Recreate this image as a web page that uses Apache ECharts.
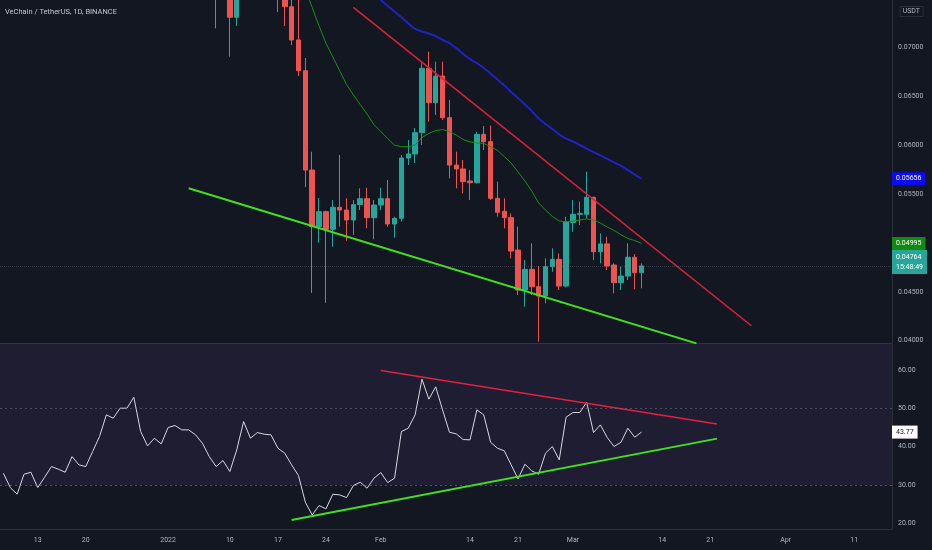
<!DOCTYPE html>
<html>
<head>
<meta charset="utf-8">
<script src="https://cdn.jsdelivr.net/npm/echarts@6/dist/echarts.min.js"></script>
<style>
html,body{margin:0;padding:0;background:#131722;}
#chart{width:932px;height:550px;}
</style>
</head>
<body>
<div id="chart"></div>
<script>
// ---------- data ----------
const firstDay = '2021-12-08';
const lastDay = '2022-04-16';

const tickDates = ['2021-12-13','2021-12-20','2022-01-01','2022-01-10','2022-01-17','2022-01-24','2022-02-01','2022-02-14','2022-02-21','2022-03-01','2022-03-14','2022-03-21','2022-04-01','2022-04-11'];
const tickLabels = ['13','20','2022','10','17','24','Feb','14','21','Mar','14','21','Apr','11'];

const priceTicks = [0.04, 0.045, 0.05, 0.055, 0.06, 0.065, 0.07];
const rsiTicks = [20, 30, 40, 50, 60];

// daily candles [open, close, low, high] from 2022-01-08 ('-' = above the visible range)
const candleStart = '2022-01-08';
const candles = [
  [0.0785, 0.0770, 0.07194, 0.0800],
  '-',
  [0.0770, 0.07307, 0.06904, 0.0782],
  [0.07307, 0.0775, 0.07218, 0.0790],
  '-', '-', '-', '-', '-',
  [0.0800, 0.0775, 0.07361, 0.0812],
  [0.0775, 0.07415, 0.07218, 0.0780],
  [0.07415, 0.07075, 0.07023, 0.0750],
  [0.07075, 0.06761, 0.06706, 0.0752],
  [0.06761, 0.05745, 0.05571, 0.06891],
  [0.05745, 0.05166, 0.04488, 0.05933],
  [0.05166, 0.05319, 0.05002, 0.05459],
  [0.05319, 0.05139, 0.04388, 0.05330],
  [0.05139, 0.05364, 0.04961, 0.05439],
  [0.05364, 0.05336, 0.05166, 0.05899],
  [0.05336, 0.05234, 0.05022, 0.05456],
  [0.05234, 0.05391, 0.05081, 0.05439],
  [0.05391, 0.05452, 0.05336, 0.05558],
  [0.05452, 0.05258, 0.05149, 0.05564],
  [0.05258, 0.05387, 0.05037, 0.05439],
  [0.05387, 0.05452, 0.05336, 0.05564],
  [0.05452, 0.05193, 0.05166, 0.05643],
  [0.05193, 0.05251, 0.05053, 0.05268],
  [0.05251, 0.05868, 0.05217, 0.05899],
  [0.05868, 0.05909, 0.05796, 0.06052],
  [0.05909, 0.06127, 0.05817, 0.06175],
  [0.06127, 0.06785, 0.06001, 0.06836],
  [0.06785, 0.06433, 0.06239, 0.06955],
  [0.06433, 0.06706, 0.06308, 0.06853],
  [0.06706, 0.06280, 0.06257, 0.06853],
  [0.06280, 0.05796, 0.05660, 0.06461],
  [0.05796, 0.05756, 0.05558, 0.05933],
  [0.05756, 0.05626, 0.05507, 0.05848],
  [0.05633, 0.05615, 0.05439, 0.05745],
  [0.05615, 0.06110, 0.05609, 0.06137],
  [0.06110, 0.06035, 0.05950, 0.06195],
  [0.06035, 0.05456, 0.05439, 0.06200],
  [0.05456, 0.05313, 0.05268, 0.05626],
  [0.05323, 0.05258, 0.05149, 0.05456],
  [0.05258, 0.04917, 0.04842, 0.05302],
  [0.04927, 0.04518, 0.04467, 0.05166],
  [0.04518, 0.04730, 0.04348, 0.04825],
  [0.04730, 0.04552, 0.04467, 0.04996],
  [0.04552, 0.04457, 0.03990, 0.04764],
  [0.04457, 0.04757, 0.04382, 0.04842],
  [0.04757, 0.04832, 0.04705, 0.04945],
  [0.04832, 0.04559, 0.04518, 0.04893],
  [0.04559, 0.05217, 0.04546, 0.05268],
  [0.05207, 0.05292, 0.05114, 0.05439],
  [0.05292, 0.05302, 0.05183, 0.05421],
  [0.05292, 0.05466, 0.05251, 0.05728],
  [0.05466, 0.04910, 0.04825, 0.05472],
  [0.04910, 0.04990, 0.04791, 0.05098],
  [0.04990, 0.04764, 0.04723, 0.05063],
  [0.04774, 0.04593, 0.04484, 0.04791],
  [0.04593, 0.04661, 0.04518, 0.04757],
  [0.04661, 0.04853, 0.04620, 0.04996],
  [0.04853, 0.04695, 0.04525, 0.04886],
  [0.04695, 0.04764, 0.04536, 0.04791]
];

// moving averages
const maGreenStart = '2022-01-21';
const maGreen = [0.07597, 0.07407, 0.07218, 0.07042, 0.06901, 0.06761, 0.06620, 0.06514, 0.06415, 0.06317, 0.06210,
  0.06138, 0.06067, 0.05999, 0.05984, 0.05984, 0.06001, 0.06078, 0.06118, 0.06149, 0.06159, 0.06139, 0.06103, 0.06057, 0.06032,
  0.06023, 0.06017, 0.05984, 0.05947, 0.05882, 0.05817, 0.05725, 0.05633, 0.05530, 0.05408, 0.05336, 0.05270, 0.05224, 0.05217,
  0.05224, 0.05234, 0.05246, 0.05234, 0.05203, 0.05162, 0.05127, 0.05084, 0.05045, 0.05024, 0.04995];
const maBlueStart = '2022-01-31';
const maBlue = [0.07566,
  0.07484, 0.07422, 0.07366, 0.07307, 0.07243, 0.07187, 0.07161, 0.07141, 0.07115, 0.07075, 0.07044, 0.06993, 0.06931, 0.06880,
  0.06839, 0.06788, 0.06732, 0.06670, 0.06609, 0.06543, 0.06481, 0.06415, 0.06349, 0.06272, 0.06216, 0.06165, 0.06108, 0.06067,
  0.06037, 0.06001, 0.05965, 0.05929, 0.05896, 0.05860, 0.05824, 0.05790, 0.05745, 0.05699, 0.05656];

// RSI
const rsiStart = '2021-12-08';
const rsi = [33.04, 29.3, 27.57, 32.78, 33.3,
  29.3, 32.0, 34.78, 34.09, 33.3, 37.39, 35.22, 34.78, 38.7, 42.6,
  48.26, 47.39, 50.0, 50.0, 52.87, 43.91, 40.17, 42.17, 40.7, 44.96,
  45.48, 44.35, 44.35, 43.04, 40.87, 37.39, 34.78, 36.35, 33.48, 39.13,
  46.52, 42.17, 43.65, 43.22, 43.04, 39.57, 38.26, 35.22, 32.43, 25.48,
  22.17, 24.61, 23.74, 27.57, 27.39, 26.7, 29.83, 30.7, 29.13, 31.74,
  33.22, 30.61, 31.74, 43.91, 44.78, 48.26, 57.57, 52.35, 55.57, 49.57,
  43.74, 43.3, 41.83, 41.74, 49.57, 48.26, 41.13, 39.57, 38.87, 35.22,
  31.57, 35.39, 33.65, 32.78, 38.26, 40.0, 36.52, 47.65, 48.87, 48.87,
  51.57, 43.65, 45.65, 42.35, 40.0, 41.13, 44.78, 42.43, 43.77];

// drawn trend lines [date, value]
const trendRedPrice = [['2022-01-28', 0.07409], ['2022-03-27', 0.04153]];
const trendGreenPrice = [['2022-01-04', 0.05559], ['2022-03-19', 0.03973]];
const trendRedRsi = [['2022-02-01', 59.8], ['2022-03-22', 45.9]];
const trendGreenRsi = [['2022-01-19', 20.86], ['2022-03-22', 42.07]];

const lastPrice = 0.04764, lastTime = '15:48:49';
const lastGreenMa = 0.04995, lastBlueMa = 0.05656, lastRsi = 43.77;
const rsiBandLow = 30, rsiBandHigh = 70;

// ---------- helpers ----------
function dayList(a, b) {
  const out = [];
  let t = Date.parse(a + 'T00:00:00Z');
  const e = Date.parse(b + 'T00:00:00Z');
  while (t <= e) { out.push(new Date(t).toISOString().slice(0, 10)); t += 86400000; }
  return out;
}
const dates = dayList(firstDay, lastDay);
function align(start, arr, empty) {
  const i = dates.indexOf(start);
  const out = dates.map(() => empty);
  arr.forEach((v, k) => { out[i + k] = (v === '-') ? empty : v; });
  return out;
}

const priceMin = 0.039765, priceMax = 0.074836;
const rsiMin = 18.5, rsiMax = 67;

const font = 'Roboto, "Liberation Sans", sans-serif';
const txt = '#b2b5be';
const border = '#2a2e39';

const chart = echarts.init(document.getElementById('chart'), null, {renderer: 'canvas'});

const tagLabel = (bg, fg, text, extra) => Object.assign({
  show: true, position: 'end', distance: 0,
  formatter: text, backgroundColor: bg, color: fg,
  fontSize: 7, fontFamily: font, padding: [2, 4, 2, 4], lineHeight: 9
}, extra || {});

const hiddenLine = {color: 'rgba(0,0,0,0)', width: 0};

chart.setOption({
  animation: false,
  backgroundColor: '#131722',
  title: [
    {text: 'VeChain / TetherUS, 1D, BINANCE', left: 5, top: 8, padding: 0,
     textStyle: {color: '#c3c6ce', fontSize: 7.5, fontWeight: 'normal', fontFamily: font}},
    {text: 'USDT', right: 9, top: 6, padding: [2, 3, 2, 3], borderColor: border, borderWidth: 1,
     textStyle: {color: txt, fontSize: 7, fontWeight: 'normal', fontFamily: font}}
  ],
  grid: [
    {left: -2, right: 40, top: 0, height: 343},
    {left: -2, right: 40, top: 343, height: 186}
  ],
  xAxis: [
    {type: 'category', gridIndex: 0, data: dates, boundaryGap: true,
     axisLine: {show: true, lineStyle: {color: border}}, axisTick: {show: false},
     axisLabel: {show: false}, splitLine: {show: false}},
    {type: 'category', gridIndex: 1, data: dates, boundaryGap: true,
     axisLine: {show: true, lineStyle: {color: border}}, axisTick: {show: false},
     splitLine: {show: false},
     axisLabel: {
       interval: (i, v) => tickDates.includes(v),
       formatter: v => tickLabels[tickDates.indexOf(v)],
       color: txt, fontSize: 7, fontFamily: font, margin: 8
     }}
  ],
  yAxis: [
    {type: 'value', gridIndex: 0, position: 'right', min: priceMin, max: priceMax,
     axisLine: {show: true, lineStyle: {color: border}}, axisTick: {show: false}, splitLine: {show: false},
     axisLabel: {customValues: priceTicks, formatter: v => v.toFixed(5), color: txt, fontSize: 7, fontFamily: font, margin: 6}},
    {type: 'value', gridIndex: 1, position: 'right', min: rsiMin, max: rsiMax,
     axisLine: {show: true, lineStyle: {color: border}}, axisTick: {show: false}, splitLine: {show: false},
     axisLabel: {customValues: rsiTicks, formatter: v => v.toFixed(2), color: txt, fontSize: 7, fontFamily: font, margin: 6}}
  ],
  series: [
    {
      type: 'candlestick', xAxisIndex: 0, yAxisIndex: 0,
      data: align(candleStart, candles, ['-', '-', '-', '-']),
      barWidth: 5, clip: true,
      itemStyle: {color: '#26a69a', color0: '#ef5350', borderColor: '#26a69a', borderColor0: '#ef5350', borderWidth: 1}
    },
    {type: 'line', xAxisIndex: 0, yAxisIndex: 0, data: align(maGreenStart, maGreen, '-'),
     symbol: 'none', lineStyle: {color: '#1b8f1b', width: 1}, clip: true,
     markLine: {
       silent: true, symbol: ['none', 'none'], animation: false, precision: 6,
       data: [
         {yAxis: lastPrice,
          lineStyle: {color: 'rgba(120,123,134,0.35)', type: 'dotted', width: 1},
          label: tagLabel('#26a69a', '#ffffff', lastPrice.toFixed(5) + '\n' + lastTime, {lineHeight: 10, offset: [0, -4]})},
         {yAxis: lastGreenMa, lineStyle: hiddenLine, label: tagLabel('#118a11', '#ffffff', lastGreenMa.toFixed(5))}
       ]
     }},
    {type: 'line', xAxisIndex: 0, yAxisIndex: 0, data: align(maBlueStart, maBlue, '-'),
     symbol: 'none', lineStyle: {color: '#2121c4', width: 2}, clip: true,
     markLine: {
       silent: true, symbol: ['none', 'none'], animation: false, precision: 6,
       data: [
         {yAxis: lastBlueMa, lineStyle: hiddenLine, label: tagLabel('#0b0bf0', '#ffffff', lastBlueMa.toFixed(5))}
       ]
     }},
    {type: 'line', xAxisIndex: 0, yAxisIndex: 0, data: trendRedPrice,
     symbol: 'none', lineStyle: {color: '#e3203d', width: 1.5}, clip: true},
    {type: 'line', xAxisIndex: 0, yAxisIndex: 0, data: trendGreenPrice,
     symbol: 'none', lineStyle: {color: '#41e01f', width: 2}, clip: true},
    {
      type: 'line', xAxisIndex: 1, yAxisIndex: 1, data: align(rsiStart, rsi, '-'),
      symbol: 'none', lineStyle: {color: '#d6d8e0', width: 1}, clip: true,
      markArea: {
        silent: true,
        itemStyle: {color: 'rgba(126,87,194,0.10)'},
        data: [[{yAxis: rsiBandLow}, {yAxis: Math.min(rsiBandHigh, rsiMax)}]]
      },
      markLine: {
        silent: true, symbol: ['none', 'none'], animation: false, precision: 2,
        data: [
          {yAxis: 50, lineStyle: {color: 'rgba(120,123,134,0.5)', type: [2, 3], width: 1}, label: {show: false}},
          {yAxis: 30, lineStyle: {color: 'rgba(120,123,134,0.6)', type: [2, 3], width: 1}, label: {show: false}},
          {yAxis: lastRsi, lineStyle: hiddenLine, label: tagLabel('#ffffff', '#131722', lastRsi.toFixed(2))}
        ]
      }
    },
    {type: 'line', xAxisIndex: 1, yAxisIndex: 1, data: trendRedRsi,
     symbol: 'none', lineStyle: {color: '#e3203d', width: 1.5}, clip: true},
    {type: 'line', xAxisIndex: 1, yAxisIndex: 1, data: trendGreenRsi,
     symbol: 'none', lineStyle: {color: '#41e01f', width: 2}, clip: true}
  ]
});
</script>
</body>
</html>
